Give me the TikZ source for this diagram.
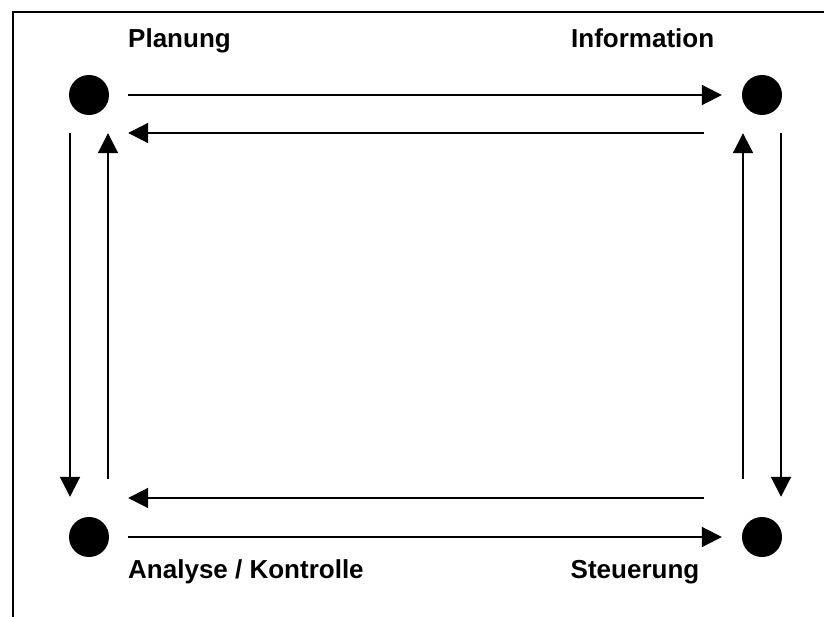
\documentclass[tikz,border=0pt]{standalone}
\usepackage{fontspec}
\setmainfont{Liberation Sans}
\usetikzlibrary{arrows.meta}
\begin{document}
\begin{tikzpicture}[x=1pt,y=-1pt,
  dot/.style={circle,fill=black,minimum size=40pt,inner sep=0pt},
  flow/.style={line width=2pt,-{Triangle[length=20pt,width=20pt]}},
  lbl/.style={anchor=base west,inner sep=0pt,font=\fontsize{26pt}{30pt}\selectfont\bfseries},
  frame/.style={line width=2pt}]
\useasboundingbox (0,0) rectangle (824,617);
\draw[frame] (824,12.5) -- (12.5,12.5) -- (12.5,617);
\node[dot] (P) at (89,95) {};
\node[dot] (I) at (762,95) {};
\node[dot] (A) at (89,537) {};
\node[dot] (S) at (762,537) {};
% top pair
\draw[flow] ([xshift=19pt]P.east) -- ([xshift=-20pt]I.west);
\draw[flow] ([shift={(-38pt,-38pt)}]I.west) -- ([shift={(19pt,-38pt)}]P.east);
% left pair
\draw[flow] ([shift={(-19pt,-18pt)}]P.south) -- ([shift={(-19pt,20pt)}]A.north);
\draw[flow] ([shift={(19pt,38pt)}]A.north) -- ([shift={(19pt,-18pt)}]P.south);
% right pair
\draw[flow] ([shift={(-19pt,38pt)}]S.north) -- ([shift={(-19pt,-18pt)}]I.south);
\draw[flow] ([shift={(19pt,-18pt)}]I.south) -- ([shift={(19pt,20pt)}]S.north);
% bottom pair
\draw[flow] ([shift={(-38pt,39pt)}]S.west) -- ([shift={(19pt,39pt)}]A.east);
\draw[flow] ([xshift=19pt]A.east) -- ([xshift=-20pt]S.west);
% labels
\node[lbl] (lP) at (128,47.5) {Planung};
\node[lbl] (lI) at (571,47.5) {Information};
\node[lbl] (lA) at (128,578) {Analyse / Kontrolle};
\node[lbl] (lS) at (570.5,578) {Steuerung};
\end{tikzpicture}
\end{document}
